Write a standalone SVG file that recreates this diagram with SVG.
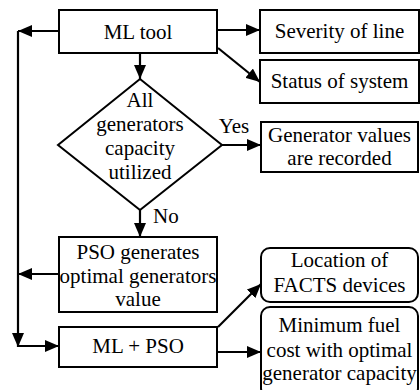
<svg xmlns="http://www.w3.org/2000/svg" width="420" height="390" viewBox="0 0 420 390">
<style>
.box{fill:#fff;stroke:#000;stroke-width:2}
.t{font-family:"Liberation Serif",Tinos,"Times New Roman",Times,serif;font-size:21px;fill:#000;text-anchor:middle}
.c{fill:none;stroke:#000;stroke-width:2.2}
</style>
<defs>
<marker id="ah" viewBox="0 0 14 12" refX="14" refY="6" markerWidth="14" markerHeight="12" markerUnits="userSpaceOnUse" orient="auto">
<path d="M0,0 L14,6 L0,12 z" fill="#000"/>
</marker>
</defs>
<rect width="420" height="390" fill="#fff"/>
<g id="connectors">
<line class="c" x1="140" y1="53" x2="140" y2="79" marker-end="url(#ah)"/>
<line class="c" x1="217" y1="30" x2="260" y2="30" marker-end="url(#ah)"/>
<line class="c" x1="218" y1="48" x2="260" y2="82" marker-end="url(#ah)"/>
<line class="c" x1="59" y1="31" x2="18" y2="31" marker-end="url(#ah)"/>
<line class="c" x1="18" y1="31" x2="18" y2="347" marker-end="url(#ah)"/>
<line class="c" x1="17" y1="346" x2="59" y2="346" marker-end="url(#ah)"/>
<line class="c" x1="59" y1="274" x2="18" y2="274" marker-end="url(#ah)"/>
<line class="c" x1="222" y1="145" x2="261" y2="145" marker-end="url(#ah)"/>
<line class="c" x1="140" y1="210" x2="140" y2="237" marker-end="url(#ah)"/>
<line class="c" x1="218" y1="327" x2="261" y2="284" marker-end="url(#ah)"/>
<line class="c" x1="217" y1="352" x2="261" y2="352" marker-end="url(#ah)"/>
<text class="t" x="234" y="133">Yes</text>
<text class="t" x="153" y="223" text-anchor="start" style="text-anchor:start">No</text>
</g>
<g id="ml-tool">
<rect class="box" x="59" y="10" width="158" height="43"/>
<text class="t" x="138" y="39">ML tool</text>
</g>
<g id="severity">
<rect class="box" x="260" y="10" width="159" height="43"/>
<text class="t" x="339.5" y="38">Severity of line</text>
</g>
<g id="status">
<rect class="box" x="260" y="60" width="159" height="43"/>
<text class="t" x="339.5" y="88">Status of system</text>
</g>
<g id="decision">
<polygon class="box" points="140,79 222,145 140,210 58,145"/>
<text class="t" x="140" y="107">All</text>
<text class="t" x="140" y="131">generators</text>
<text class="t" x="140" y="155">capacity</text>
<text class="t" x="140" y="179">utilized</text>
</g>
<g id="generator-values">
<rect class="box" x="261" y="122" width="157" height="50"/>
<text class="t" x="339.5" y="142">Generator values</text>
<text class="t" x="339.5" y="165">are recorded</text>
</g>
<g id="pso">
<rect class="box" x="59" y="237" width="158" height="75"/>
<text class="t" x="138" y="259">PSO generates</text>
<text class="t" x="138" y="283">optimal generators</text>
<text class="t" x="138" y="306">value</text>
</g>
<g id="ml-pso">
<rect class="box" x="59" y="327" width="158" height="40"/>
<text class="t" x="138" y="353">ML + PSO</text>
</g>
<g id="facts">
<rect class="box" x="261" y="248" width="157" height="54" rx="9"/>
<text class="t" x="339.5" y="267">Location of</text>
<text class="t" x="339.5" y="292">FACTS devices</text>
</g>
<g id="min-fuel">
<rect class="box" x="261" y="307" width="157" height="90" rx="9"/>
<text class="t" x="339.5" y="332">Minimum fuel</text>
<text class="t" x="339.5" y="357">cost with optimal</text>
<text class="t" x="339.5" y="380">generator capacity</text>
</g>
</svg>
